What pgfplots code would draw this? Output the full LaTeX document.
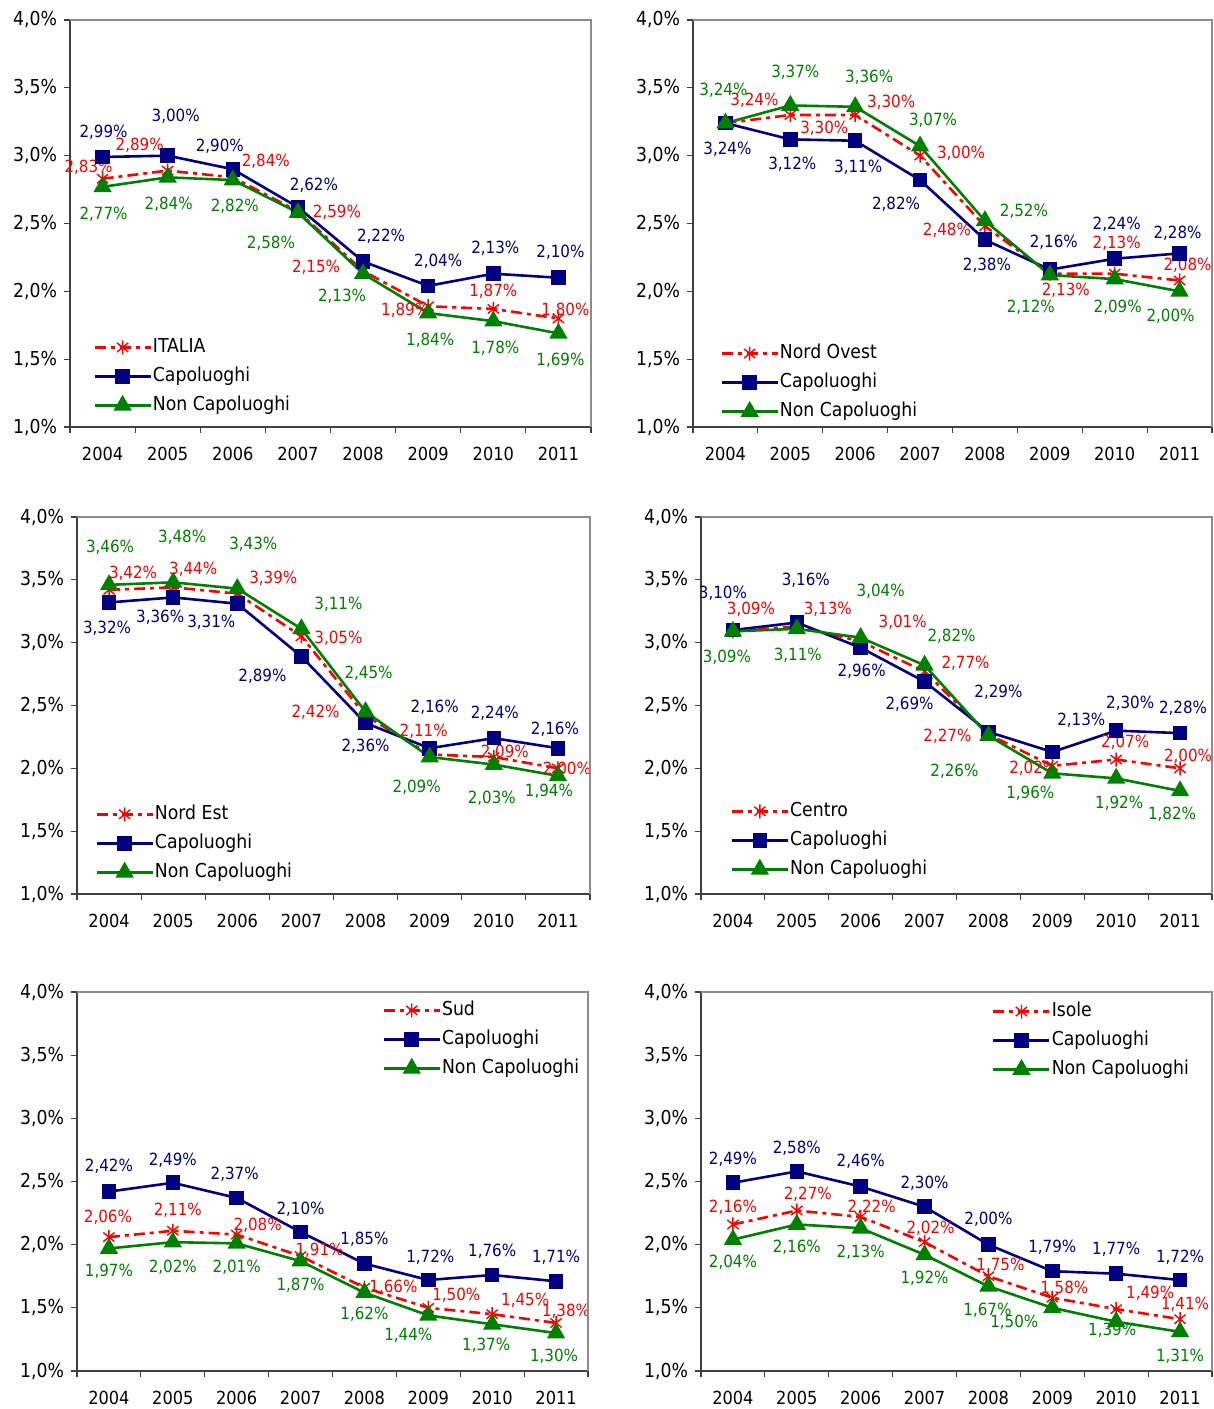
\documentclass[border=0pt]{standalone}
\usepackage{pgfplots}
\pgfplotsset{compat=1.18}
\usepackage{fontspec}
\setmainfont{DejaVu Sans Condensed}
\definecolor{cred}{RGB}{255,0,0}
\definecolor{cnavy}{RGB}{0,0,128}
\definecolor{cgreen}{RGB}{0,128,0}
\newcommand\tickfont{\fontsize{9}{10}\selectfont}
\newcommand\ytickfont{\fontsize{9.6}{10}\selectfont}
\newcommand\legfont{\fontsize{9.6}{10}\selectfont}
\newcommand\labfont{\fontsize{8.4}{9}\selectfont}
\pgfdeclareplotmark{xstar}{%
  \pgfpathmoveto{\pgfqpoint{0pt}{\pgfplotmarksize}}%
  \pgfpathlineto{\pgfqpoint{0pt}{-\pgfplotmarksize}}%
  \pgfpathmoveto{\pgfqpoint{-.8\pgfplotmarksize}{.65\pgfplotmarksize}}%
  \pgfpathlineto{\pgfqpoint{.8\pgfplotmarksize}{-.65\pgfplotmarksize}}%
  \pgfpathmoveto{\pgfqpoint{-.8\pgfplotmarksize}{-.65\pgfplotmarksize}}%
  \pgfpathlineto{\pgfqpoint{.8\pgfplotmarksize}{.65\pgfplotmarksize}}%
  \pgfusepathqstroke}

\pgfplotsset{
  rs/.style={color=cred, line width=1.3pt, dash pattern=on 5.5pt off 2.5pt on 2pt off 2.5pt, mark=xstar, mark size=3.5pt, mark options={solid, line width=0.7pt}},
  bs/.style={color=cnavy, line width=1.3pt, mark=square*, mark size=3pt, mark options={solid, fill=cnavy}},
  gs/.style={color=cgreen, line width=1.3pt, mark=triangle*, mark size=4pt, mark options={solid, fill=cgreen}},
  lab/.style={point meta=y,
    nodes near coords={\pgfmathprintnumber[fixed,fixed zerofill,precision=2,use comma,assume math mode=true]{\pgfplotspointmeta}\%},
    visualization depends on={value \thisrow{dx}\as\ldx},
    visualization depends on={value \thisrow{dy}\as\ldy},
    every node near coord/.append style={anchor=center, inner sep=0pt, text=#1, font=\labfont, xshift={\ldx*0.5pt}, yshift={-(\ldy)*0.5pt}}},
  panel/.style={
    scale only axis, clip=false,
    xmin=0, xmax=8, ymin=1, ymax=4,
    axis lines*=left,
    axis line style={-, draw=black!75, line width=0.6pt},
    tick style={draw=black!75, line width=0.6pt},
    tick align=outside, major tick length=3pt,
    xtick={0,1,...,8}, xticklabels={},
    extra x ticks={0.5,1.5,...,7.5},
    extra x tick labels={2004,2005,2006,2007,2008,2009,2010,2011},
    extra x tick style={major tick length=0pt, xticklabel style={yshift=-6.7pt}},
    ytick={1,1.5,...,4},
    yticklabel={\pgfmathprintnumber[fixed,fixed zerofill,precision=1,use comma]{\tick}\%},
    /pgf/number format/assume math mode=true,
    xticklabel style={font=\tickfont, text=black},
    yticklabel style={font=\ytickfont, text=black},
    legend cell align=left,
    legend style={draw=none, fill=none, anchor=north west, inner sep=0pt, row sep=4.5pt, font=\legfont, nodes={inner sep=0.5pt, text height=7pt, text depth=2pt}},
    legend image code/.code={\draw[mark repeat=2,mark phase=2,##1] plot coordinates {(0pt,0pt) (14pt,0pt) (28pt,0pt)};},
    after end axis/.code={\draw[black!45, line width=0.6pt] (rel axis cs:0,1) -- (rel axis cs:1,1) -- (rel axis cs:1,0);},
  },
}

\begin{document}
\begin{tikzpicture}
\useasboundingbox (0,0) rectangle (607pt,704.5pt);
% ---------------- ITALIA
\begin{axis}[panel, at={(35pt,491pt)}, anchor=south west, width=260.5pt, height=203.5pt,
  legend style={at={(0.044,0.221)}}]
\addplot[rs, lab=cred] table {
x   y    dx  dy
0.5 2.83 -14 -11
1.5 2.89 -28 -25
2.5 2.84 33  -16
3.5 2.59 39  1
4.5 2.15 -47 -4
5.5 1.89 -23 4
6.5 1.87 0   -18
7.5 1.80 7   -8
};
\addplot[bs, lab=cnavy] table {
x   y    dx  dy
0.5 2.99 1   -25
1.5 3.00 8   -39
2.5 2.90 -13 -23
3.5 2.62 16  -22
4.5 2.22 18  -25
5.5 2.04 10  -25
6.5 2.13 2   -25
7.5 2.10 2   -26
};
\addplot[gs, lab=cgreen] table {
x   y    dx  dy
0.5 2.77 1   27
1.5 2.84 1   27
2.5 2.82 2   26
3.5 2.58 -27 31
4.5 2.13 -21 23
5.5 1.84 2   27
6.5 1.78 2   27
7.5 1.69 2   27
};
\legend{ITALIA,Capoluoghi,Non Capoluoghi}
\end{axis}
% ---------------- Nord Ovest
\begin{axis}[panel, at={(346.5pt,491pt)}, anchor=south west, width=259.5pt, height=203.5pt,
  legend style={at={(0.052,0.206)}}]
\addplot[rs, lab=cred] table {
x   y    dx  dy
0.5 3.24 29  -23
1.5 3.30 34  13
2.5 3.30 36  -13
3.5 3.00 41  -2
4.5 2.48 -38 4
5.5 2.13 16  17
6.5 2.13 2   -30
7.5 2.08 8   -15
};
\addplot[bs, lab=cnavy] table {
x   y    dx  dy
0.5 3.24 2   26
1.5 3.12 2   25
2.5 3.11 3   27
3.5 2.82 -24 24
4.5 2.38 2   25
5.5 2.16 4   -27
6.5 2.24 2   -35
7.5 2.28 -2  -20
};
\addplot[gs, lab=cgreen] table {
x   y    dx  dy
0.5 3.24 -2  -33
1.5 3.37 5   -33
2.5 3.36 14  -30
3.5 3.07 13  -26
4.5 2.52 39  -10
5.5 2.12 -19 32
6.5 2.09 3   28
7.5 2.00 -9  25
};
\legend{Nord Ovest,Capoluoghi,Non Capoluoghi}
\end{axis}
% ---------------- Nord Est
\begin{axis}[panel, at={(38.5pt,257.5pt)}, anchor=south west, width=256.5pt, height=188.5pt,
  legend style={at={(0.035,0.239)}}]
\addplot[rs, lab=cred] table {
x   y    dx  dy
0.5 3.42 24  -17
1.5 3.44 20  -18
2.5 3.39 36  -15
3.5 3.05 37  2
4.5 2.42 -50 -3
5.5 2.11 -6  -23
6.5 2.09 11  -5
7.5 2.00 9   1
};
\addplot[bs, lab=cnavy] table {
x   y    dx  dy
0.5 3.32 -2  26
1.5 3.36 -13 20
2.5 3.31 -26 19
3.5 2.89 -39 20
4.5 2.36 0   23
5.5 2.16 5   -41
6.5 2.24 1   -25
7.5 2.16 -3  -19
};
\addplot[gs, lab=cgreen] table {
x   y    dx  dy
0.5 3.46 1   -38
1.5 3.48 9   -45
2.5 3.43 16  -44
3.5 3.11 37  -25
4.5 2.45 3   -39
5.5 2.09 -13 30
6.5 2.03 -2  34
7.5 1.94 -9  15
};
\legend{Nord Est,Capoluoghi,Non Capoluoghi}
\end{axis}
% ---------------- Centro
\begin{axis}[panel, at={(350.5pt,257.5pt)}, anchor=south west, width=255.5pt, height=188.5pt,
  legend style={at={(0.057,0.247)}}]
\addplot[rs, lab=cred] table {
x   y    dx  dy
0.5 3.09 18  -22
1.5 3.13 31  -17
2.5 3.01 42  -19
3.5 2.77 41  -8
4.5 2.27 -41 2
5.5 2.02 -19 2
6.5 2.07 9   -17
7.5 2.00 8   -12
};
\addplot[bs, lab=cnavy] table {
x   y    dx  dy
0.5 3.10 -10 -37
1.5 3.16 9   -42
2.5 2.96 1   24
3.5 2.69 -15 23
4.5 2.29 10  -40
5.5 2.13 29  -32
6.5 2.30 14  -27
7.5 2.28 3   -25
};
\addplot[gs, lab=cgreen] table {
x   y    dx  dy
0.5 3.09 -6  26
1.5 3.11 1   26
2.5 3.04 20  -46
3.5 2.82 27  -29
4.5 2.26 -34 36
5.5 1.96 -22 20
6.5 1.92 3   25
7.5 1.82 -8  23
};
\legend{Centro,Capoluoghi,Non Capoluoghi}
\end{axis}
% ---------------- Sud
\begin{axis}[panel, at={(38.5pt,19pt)}, anchor=south west, width=255.5pt, height=189.5pt,
  legend style={at={(0.597,0.979)}}]
\addplot[rs, lab=cred] table {
x   y    dx  dy
0.5 2.06 -1  -20
1.5 2.11 5   -21
2.5 2.08 21  -9
3.5 1.91 19  -6
4.5 1.66 29  0
5.5 1.50 28  -13
6.5 1.45 33  -14
7.5 1.38 10  -12
};
\addplot[bs, lab=cnavy] table {
x   y    dx  dy
0.5 2.42 0   -25
1.5 2.49 0   -23
2.5 2.37 -2  -24
3.5 2.10 0   -23
4.5 1.85 0   -24
5.5 1.72 2   -23
6.5 1.76 0   -24
7.5 1.71 0   -24
};
\addplot[gs, lab=cgreen] table {
x   y    dx  dy
0.5 1.97 0   23
1.5 2.02 0   25
2.5 2.01 0   24
3.5 1.87 0   24
4.5 1.62 0   22
5.5 1.44 -20 20
6.5 1.37 -6  21
7.5 1.30 -2  23
};
\legend{Sud,Capoluoghi,Non Capoluoghi}
\end{axis}
% ---------------- Isole
\begin{axis}[panel, at={(350.5pt,19pt)}, anchor=south west, width=255.5pt, height=189.5pt,
  legend style={at={(0.569,0.976)}}]
\addplot[rs, lab=cred] table {
x   y    dx  dy
0.5 2.16 0   -17
1.5 2.27 11  -16
2.5 2.22 11  -10
3.5 2.02 6   -14
4.5 1.75 12  -11
5.5 1.58 12  -9
6.5 1.49 34  -16
7.5 1.41 5   -15
};
\addplot[bs, lab=cnavy] table {
x   y    dx  dy
0.5 2.49 0   -24
1.5 2.58 0   -23
2.5 2.46 0   -25
3.5 2.30 0   -24
4.5 2.00 0   -25
5.5 1.79 0   -24
6.5 1.77 0   -24
7.5 1.72 0   -23
};
\addplot[gs, lab=cgreen] table {
x   y    dx  dy
0.5 2.04 0   23
1.5 2.16 0   23
2.5 2.13 0   24
3.5 1.92 0   23
4.5 1.67 -1  24
5.5 1.50 -38 14
6.5 1.39 -4  9
7.5 1.31 0   24
};
\legend{Isole,Capoluoghi,Non Capoluoghi}
\end{axis}
\end{tikzpicture}
\end{document}
